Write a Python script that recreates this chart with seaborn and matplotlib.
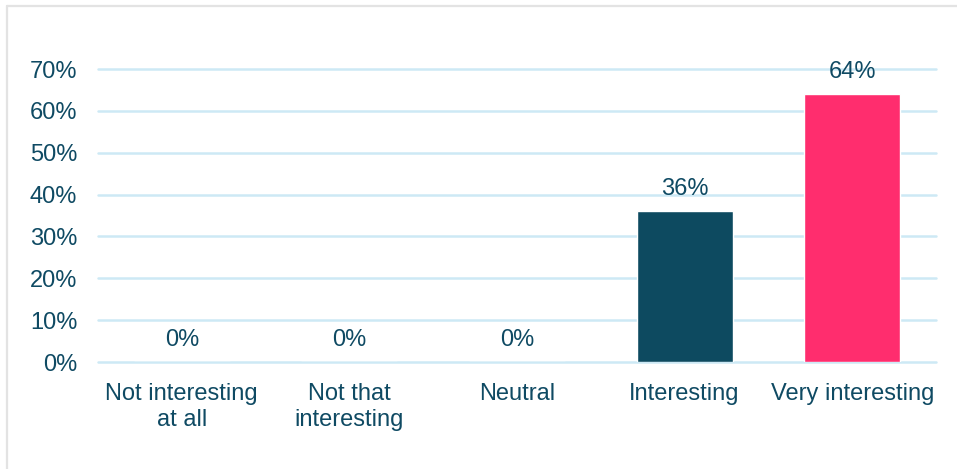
import matplotlib
matplotlib.use("Agg")
import matplotlib.pyplot as plt
import seaborn as sns
import pandas as pd
from matplotlib.lines import Line2D

categories = ["Not interesting\nat all", "Not that\ninteresting", "Neutral", "Interesting", "Very interesting"]
values = [0.0, 0.0, 0.0, 0.36, 0.64]
labels = ["0%", "0%", "0%", "36%", "64%"]
yticks = [0.0, 0.1, 0.2, 0.3, 0.4, 0.5, 0.6, 0.7]
ytick_labels = ["0%", "10%", "20%", "30%", "40%", "50%", "60%", "70%"]
colors = ["#0D4A60", "#0D4A60", "#0D4A60", "#0D4A60", "#FF2D6E"]

sns.set_style("white")
plt.rcParams["font.family"] = ["Liberation Sans", "DejaVu Sans"]
text_color = "#0F4A63"
fs = 17

df = pd.DataFrame({"category": categories, "value": values})

fig = plt.figure(figsize=(9.57, 4.69), dpi=100)
ax = fig.add_axes([98/957, 1 - 362/469, (936-98)/957, (362-69)/469])

sns.barplot(data=df, x="category", y="value", hue="category", palette=colors,
            width=0.573, legend=False, ax=ax, saturation=1)

ax.set_ylim(0, 0.70)
ax.set_xlim(-0.5, 4.5)
ax.set_yticks(yticks)
ax.set_yticklabels(ytick_labels)
ax.grid(axis="y", color="#CDE9F5", linewidth=1.8)
for gl in ax.get_ygridlines():
    gl.set_clip_on(False)
ax.set_axisbelow(True)
for s in ax.spines.values():
    s.set_visible(False)
ax.set_xlabel("")
ax.set_ylabel("")
ax.tick_params(axis="y", length=0, pad=15, labelsize=fs, labelcolor=text_color)
ax.tick_params(axis="x", length=0, pad=15, labelsize=fs, labelcolor=text_color)
for t in ax.get_xticklabels():
    t.set_linespacing(1.25)

for i, (v, lab) in enumerate(zip(values, labels)):
    ax.annotate(lab, xy=(i, v), xytext=(0, 8), textcoords="offset points",
                ha="center", va="bottom", fontsize=fs, color=text_color)

border = "#E3E3E3"
fig.add_artist(Line2D([7/957, 1], [1 - 6/469, 1 - 6/469], transform=fig.transFigure,
                      color=border, linewidth=1.6))
fig.add_artist(Line2D([7/957, 7/957], [0, 1 - 6/469], transform=fig.transFigure,
                      color=border, linewidth=1.6))

fig.savefig("out.png", dpi=100)
